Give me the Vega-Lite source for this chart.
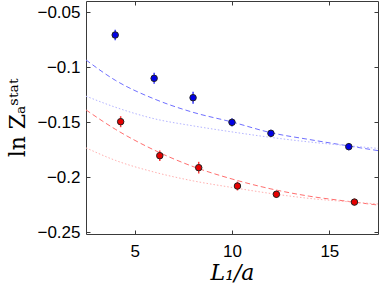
{
  "$schema": "https://vega.github.io/schema/vega-lite/v6.json",
  "autosize": "none",
  "width": 292,
  "height": 233,
  "padding": {"left": 86, "top": 1, "right": 4, "bottom": 53},
  "background": "white",
  "config": {
    "view": {"stroke": "#3a3a3a", "strokeWidth": 1},
    "axis": {"grid": false, "domain": false, "tickColor": "#3a3a3a", "labelColor": "#000", "titleColor": "#000", "labelFont": "Liberation Sans", "labelFontSize": 17, "titleFontWeight": "normal"}
  },
  "datasets": {
    "curves": [
      {"L": 2.5, "v": -0.0936, "series": "blue-fit", "style": "dashed"},
      {"L": 4, "v": -0.1120, "series": "blue-fit", "style": "dashed"},
      {"L": 6, "v": -0.1290, "series": "blue-fit", "style": "dashed"},
      {"L": 8, "v": -0.1412, "series": "blue-fit", "style": "dashed"},
      {"L": 10, "v": -0.1500, "series": "blue-fit", "style": "dashed"},
      {"L": 12, "v": -0.1597, "series": "blue-fit", "style": "dashed"},
      {"L": 14, "v": -0.1660, "series": "blue-fit", "style": "dashed"},
      {"L": 16, "v": -0.1718, "series": "blue-fit", "style": "dashed"},
      {"L": 17.5, "v": -0.1760, "series": "blue-fit", "style": "dashed"},
      {"L": 2.5, "v": -0.1265, "series": "blue-alt", "style": "dotted"},
      {"L": 4, "v": -0.1365, "series": "blue-alt", "style": "dotted"},
      {"L": 6, "v": -0.1470, "series": "blue-alt", "style": "dotted"},
      {"L": 8, "v": -0.1535, "series": "blue-alt", "style": "dotted"},
      {"L": 10, "v": -0.1590, "series": "blue-alt", "style": "dotted"},
      {"L": 12, "v": -0.1640, "series": "blue-alt", "style": "dotted"},
      {"L": 14, "v": -0.1682, "series": "blue-alt", "style": "dotted"},
      {"L": 16, "v": -0.1716, "series": "blue-alt", "style": "dotted"},
      {"L": 17.5, "v": -0.1740, "series": "blue-alt", "style": "dotted"},
      {"L": 2.5, "v": -0.1390, "series": "red-fit", "style": "dashed"},
      {"L": 4, "v": -0.1565, "series": "red-fit", "style": "dashed"},
      {"L": 6, "v": -0.1755, "series": "red-fit", "style": "dashed"},
      {"L": 8, "v": -0.1905, "series": "red-fit", "style": "dashed"},
      {"L": 10, "v": -0.2018, "series": "red-fit", "style": "dashed"},
      {"L": 12, "v": -0.2108, "series": "red-fit", "style": "dashed"},
      {"L": 14, "v": -0.2175, "series": "red-fit", "style": "dashed"},
      {"L": 16, "v": -0.2222, "series": "red-fit", "style": "dashed"},
      {"L": 17.5, "v": -0.2255, "series": "red-fit", "style": "dashed"},
      {"L": 2.5, "v": -0.1735, "series": "red-alt", "style": "dotted"},
      {"L": 4, "v": -0.1848, "series": "red-alt", "style": "dotted"},
      {"L": 6, "v": -0.1955, "series": "red-alt", "style": "dotted"},
      {"L": 8, "v": -0.2035, "series": "red-alt", "style": "dotted"},
      {"L": 10, "v": -0.2095, "series": "red-alt", "style": "dotted"},
      {"L": 12, "v": -0.2150, "series": "red-alt", "style": "dotted"},
      {"L": 14, "v": -0.2195, "series": "red-alt", "style": "dotted"},
      {"L": 16, "v": -0.2225, "series": "red-alt", "style": "dotted"},
      {"L": 17.5, "v": -0.2245, "series": "red-alt", "style": "dotted"}
    ],
    "points": [
      {"L": 4, "v": -0.0709, "err": 0.0048, "set": "blue"},
      {"L": 6, "v": -0.1103, "err": 0.0050, "set": "blue"},
      {"L": 8, "v": -0.1279, "err": 0.0055, "set": "blue"},
      {"L": 10, "v": -0.1503, "err": 0.0038, "set": "blue"},
      {"L": 12, "v": -0.1603, "err": 0.0033, "set": "blue"},
      {"L": 16, "v": -0.1724, "err": 0.0033, "set": "blue"},
      {"L": 4.28, "v": -0.1497, "err": 0.0050, "set": "red"},
      {"L": 6.29, "v": -0.1806, "err": 0.0048, "set": "red"},
      {"L": 8.29, "v": -0.1915, "err": 0.0053, "set": "red"},
      {"L": 10.28, "v": -0.2082, "err": 0.0040, "set": "red"},
      {"L": 12.28, "v": -0.2157, "err": 0.0032, "set": "red"},
      {"L": 16.29, "v": -0.2228, "err": 0.0030, "set": "red"}
    ]
  },
  "layer": [
    {
      "data": {"name": "curves"},
      "mark": {"type": "line", "strokeWidth": 1, "interpolate": "monotone", "clip": true},
      "encoding": {
        "x": {"field": "L", "type": "quantitative", "scale": {"domain": [2.5, 17.5], "nice": false, "zero": false},
              "axis": {"orient": "bottom", "values": [5, 10, 15], "format": "d", "tickSize": -4, "labelPadding": 13, "title": "L₁/a", "titleFont": "DejaVu Serif", "titleFontStyle": "italic", "titleFontSize": 22, "titlePadding": 3}},
        "y": {"field": "v", "type": "quantitative", "scale": {"domain": [-0.2518, -0.0400], "nice": false, "zero": false},
              "axis": {"orient": "left", "values": [-0.25, -0.2, -0.15, -0.1, -0.05], "format": "~g", "tickSize": -4, "labelPadding": 10, "title": "ln Zₐˢᵗᵃᵗ", "titleFont": "DejaVu Serif", "titleFontSize": 22, "titlePadding": 7}},
        "color": {"field": "series", "type": "nominal", "legend": null,
                  "scale": {"domain": ["blue-fit", "blue-alt", "red-fit", "red-alt"], "range": ["#6f6fff", "#b4b4ff", "#ff6f6f", "#ffb0b0"]}},
        "strokeDash": {"field": "style", "type": "nominal", "legend": null,
                       "scale": {"domain": ["dashed", "dotted"], "range": [[5, 3], [1.5, 2]]}}
      }
    },
    {
      "data": {"name": "points"},
      "transform": [{"calculate": "datum.v - datum.err", "as": "lo"}, {"calculate": "datum.v + datum.err", "as": "hi"}],
      "mark": {"type": "rule", "strokeWidth": 1.5},
      "encoding": {
        "x": {"field": "L", "type": "quantitative", "axis": null},
        "y": {"field": "lo", "type": "quantitative", "axis": null},
        "y2": {"field": "hi"},
        "color": {"field": "set", "type": "nominal", "legend": null,
                  "scale": {"domain": ["blue", "red"], "range": ["#3a3aff", "#ff3a3a"]}}
      }
    },
    {
      "data": {"name": "points"},
      "mark": {"type": "point", "filled": true, "shape": "circle", "size": 42, "stroke": "#222", "strokeWidth": 1, "opacity": 1},
      "encoding": {
        "x": {"field": "L", "type": "quantitative", "axis": {"orient": "top", "values": [5, 10, 15], "labels": false, "tickSize": -4, "title": null}},
        "y": {"field": "v", "type": "quantitative", "axis": {"orient": "right", "values": [-0.25, -0.2, -0.15, -0.1, -0.05], "labels": false, "tickSize": -4, "title": null}},
        "fill": {"field": "set", "type": "nominal", "legend": null,
                 "scale": {"domain": ["blue", "red"], "range": ["#0000e6", "#e60000"]}}
      }
    }
  ],
  "resolve": {"scale": {"color": "independent", "strokeDash": "independent"}, "axis": {"x": "independent", "y": "independent"}}
}
